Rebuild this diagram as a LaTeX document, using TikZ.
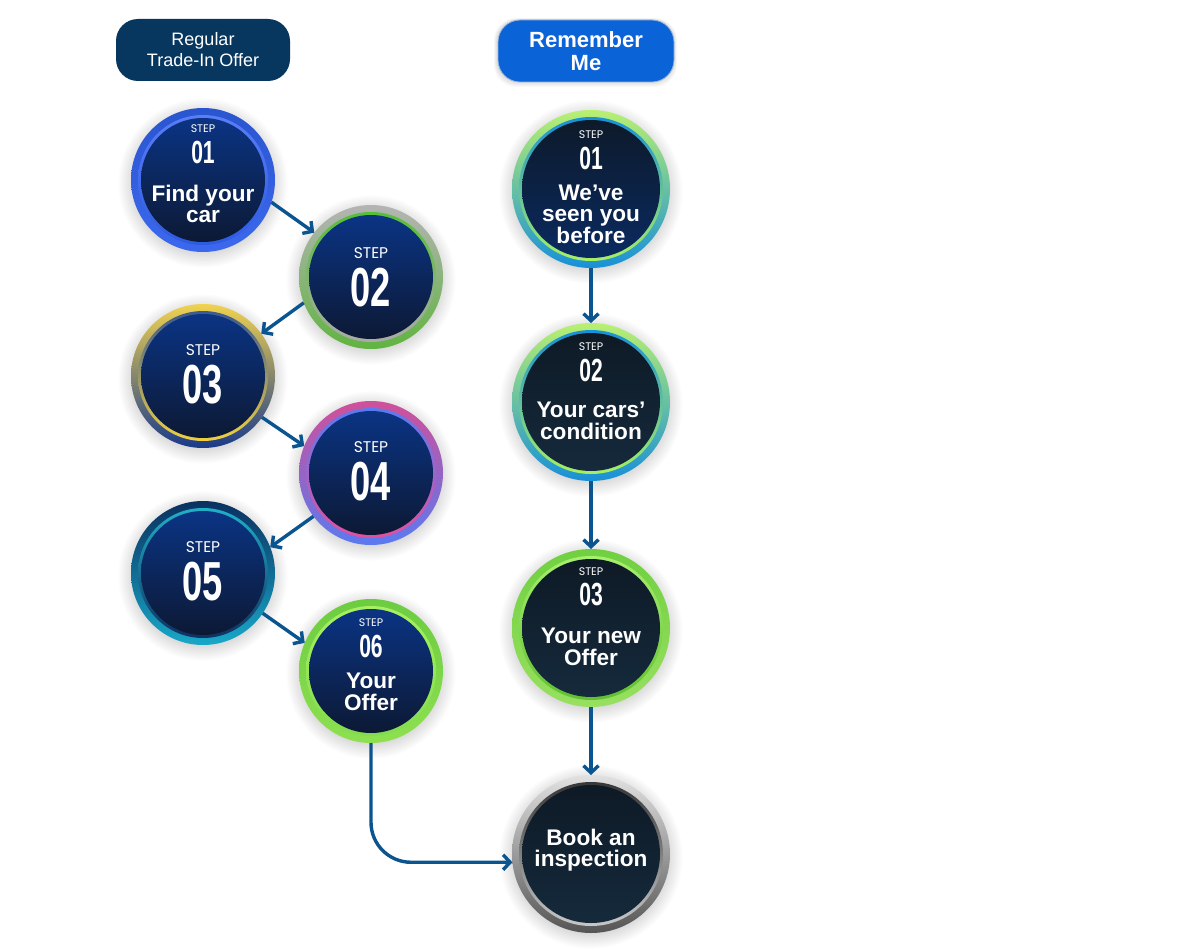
\documentclass[tikz,border=0pt]{standalone}
\usepackage{fontspec}
\setmainfont{Liberation Sans}
\newfontfamily\stepfont{Poppins}
\newfontfamily\numfont{Liberation Sans}[FakeStretch=0.66]
\usetikzlibrary{arrows.meta}
\definecolor{navyhdr}{HTML}{07365F}
\definecolor{bluehdr}{HTML}{0B63D8}
\definecolor{arrowc}{HTML}{0A548F}
\tikzset{
  ballnode/.style={circle, inner sep=0pt, outer sep=0pt, draw=none},
  flow/.style={draw=arrowc, line width=3.4pt, -{Straight Barb[length=7pt,width=15pt]}},
  hdrbox/.style={rounded corners=22pt, text=white, minimum width=174pt, minimum height=62pt, align=center, inner sep=0pt},
  steplbl/.style={text=white, font=\stepfont\fontsize{15.5}{16}\selectfont, inner sep=0pt},
  steplblsm/.style={text=white, font=\stepfont\fontsize{11}{12}\selectfont, inner sep=0pt},
  numbig/.style={text=white, font=\numfont\bfseries\fontsize{55}{55}\selectfont, inner sep=0pt},
  numsm/.style={text=white, font=\numfont\bfseries\fontsize{32}{32}\selectfont, inner sep=0pt},
  maintxt/.style={text=white, font=\bfseries\fontsize{22.6}{21.5}\selectfont, align=center, inner sep=0pt},
  % fills
  fillblue/.style={top color={rgb,255:red,11;green,52;blue,132}, bottom color={rgb,255:red,12;green,25;blue,52}},
  fillslate/.style={shading angle=60, top color={rgb,255:red,14;green,26;blue,38}, bottom color={rgb,255:red,21;green,42;blue,60}},
  fillrone/.style={top color={rgb,255:red,13;green,26;blue,42}, bottom color={rgb,255:red,10;green,42;blue,96}},
  % rings
  ringA/.style={top color={rgb,255:red,42;green,85;blue,208}, bottom color={rgb,255:red,60;green,104;blue,238}},
  innA/.style={top color={rgb,255:red,90;green,125;blue,248}, bottom color={rgb,255:red,45;green,91;blue,224}},
  ringB/.style={shading angle=20, top color={rgb,255:red,180;green,180;blue,180}, middle color={rgb,255:red,150;green,170;blue,140}, bottom color={rgb,255:red,96;green,180;blue,64}},
  innB/.style={top color={rgb,255:red,85;green,192;blue,53}, bottom color={rgb,255:red,170;green,170;blue,170}},
  ringC/.style={shading angle=20, top color={rgb,255:red,240;green,210;blue,80}, middle color={rgb,255:red,120;green,130;blue,140}, bottom color={rgb,255:red,26;green,58;blue,138}},
  innC/.style={top color={rgb,255:red,60;green,90;blue,144}, bottom color={rgb,255:red,240;green,208;blue,64}},
  ringD/.style={shading angle=-20, top color={rgb,255:red,208;green,80;blue,154}, middle color={rgb,255:red,154;green,106;blue,208}, bottom color={rgb,255:red,90;green,122;blue,240}},
  innD/.style={top color={rgb,255:red,90;green,122;blue,240}, bottom color={rgb,255:red,224;green,80;blue,160}},
  ringE/.style={top color={rgb,255:red,11;green,48;blue,96}, bottom color={rgb,255:red,24;green,168;blue,200}},
  innE/.style={top color={rgb,255:red,32;green,176;blue,200}, bottom color={rgb,255:red,16;green,48;blue,96}},
  ringF/.style={top color={rgb,255:red,108;green,204;blue,64}, bottom color={rgb,255:red,142;green,224;blue,80}},
  innF/.style={top color={rgb,255:red,168;green,240;blue,96}, bottom color={rgb,255:red,130;green,220;blue,80}},
  ringG/.style={top color={rgb,255:red,184;green,240;blue,112}, middle color={rgb,255:red,96;green,200;blue,160}, bottom color={rgb,255:red,24;green,144;blue,216}},
  innG/.style={top color={rgb,255:red,24;green,144;blue,216}, bottom color={rgb,255:red,168;green,240;blue,96}},
  ringH/.style={top color={rgb,255:red,112;green,208;blue,64}, bottom color={rgb,255:red,152;green,224;blue,96}},
  innH/.style={top color={rgb,255:red,168;green,240;blue,112}, bottom color={rgb,255:red,96;green,192;blue,48}},
  ringI/.style={top color={rgb,255:red,225;green,225;blue,225}, middle color={rgb,255:red,170;green,170;blue,170}, bottom color={rgb,255:red,85;green,85;blue,85}},
  innI/.style={top color={rgb,255:red,55;green,55;blue,55}, bottom color={rgb,255:red,200;green,200;blue,200}},
}
\newcommand\stepball[7]{%
  \foreach \k in {1,...,12}{\fill[black,opacity=0.011] (#2,#3+3) circle ({(#4-3+1.3*\k)*1pt});}
  \shade[#5] (#2,#3) circle ({(#4)*1pt});
  \shade[#6] (#2,#3) circle ({(#4-7)*1pt});
  \shade[#7] (#2,#3) circle ({(#4-10)*1pt});
  \node[ballnode, minimum size={2*#4*1pt}] (#1) at (#2,#3) {};
}
\begin{document}
\begin{tikzpicture}[x=1pt,y=-1pt]
\useasboundingbox (0,0) rectangle (1200,950);
\fill[white] (0,0) rectangle (1200,950);

% headers
\node[hdrbox, fill=navyhdr, font=\fontsize{18}{21}\selectfont] (hL) at (203,50) {Regular\\Trade-In Offer};
\foreach \k in {1,...,5}{\fill[black,opacity=0.025, rounded corners=22pt] ({497-0.6*\k},{20-0.4*\k}) rectangle ({674+0.6*\k},{82+1*\k});}
\node[hdrbox, fill=bluehdr, draw={rgb,255:red,150;green,180;blue,220}, line width=0.8pt, minimum width=176pt, font=\bfseries\fontsize{22}{23}\selectfont] (hR) at (586,51) {Remember\\Me};

% left column
\stepball{L1}{203}{180}{72}{ringA}{innA}{fillblue}
\stepball{L2}{371}{277}{72}{ringB}{innB}{fillblue}
\stepball{L3}{203}{376}{72}{ringC}{innC}{fillblue}
\stepball{L4}{371}{473}{72}{ringD}{innD}{fillblue}
\stepball{L5}{203}{573}{72}{ringE}{innE}{fillblue}
\stepball{L6}{371}{671}{72}{ringF}{innF}{fillblue}
% right column
\stepball{R1}{591}{189}{79}{ringG}{innG}{fillrone}
\stepball{R2}{591}{402}{79}{ringG}{innG}{fillslate}
\stepball{R3}{591}{628}{79}{ringH}{innH}{fillslate}
\stepball{R4}{591}{854}{79}{ringI}{innI}{fillslate}

% texts left
\node[steplblsm] (L1s) at (203,129) {STEP};
\node[numsm] (L1n) at (203,152) {01};
\node[maintxt] (L1t) at (203,204) {Find your\\car};
\node[steplbl] (L2s) at (371,253) {STEP};
\node[numbig] (L2n) at (371,288) {02};
\node[steplbl] (L3s) at (203,350) {STEP};
\node[numbig] (L3n) at (203,385) {03};
\node[steplbl] (L4s) at (371,447) {STEP};
\node[numbig] (L4n) at (371,482) {04};
\node[steplbl] (L5s) at (203,547) {STEP};
\node[numbig] (L5n) at (203,582) {05};
\node[steplblsm] (L6s) at (371,623) {STEP};
\node[numsm] (L6n) at (371,646) {06};
\node[maintxt] (L6t) at (371,692) {Your\\Offer};
% texts right
\node[steplblsm] (R1s) at (591,135) {STEP};
\node[numsm] (R1n) at (591,158) {01};
\node[maintxt] (R1t) at (591,214) {We’ve\\seen you\\before};
\node[steplblsm] (R2s) at (591,347) {STEP};
\node[numsm] (R2n) at (591,370) {02};
\node[maintxt] (R2t) at (591,421) {Your cars’\\condition};
\node[steplblsm] (R3s) at (591,572) {STEP};
\node[numsm] (R3n) at (591,595) {03};
\node[maintxt] (R3t) at (591,647) {Your new\\Offer};
\node[maintxt] (R4t) at (591,850) {Book an\\inspection};

% connectors
\draw[flow] (L1.-18) -- (L2.142);
\draw[flow] (L2.-159) -- (L3.36);
\draw[flow] (L3.-35) -- (L4.158);
\draw[flow] (L4.-143) -- (L5.21);
\draw[flow] (L5.-34) -- (L6.157);
\draw[flow, rounded corners=40pt] (L6.south) |- (R4.186);
\draw[flow] (R1.south) -- (R2.north);
\draw[flow] (R2.south) -- (R3.north);
\draw[flow] (R3.south) -- (R4.north);
\end{tikzpicture}
\end{document}
